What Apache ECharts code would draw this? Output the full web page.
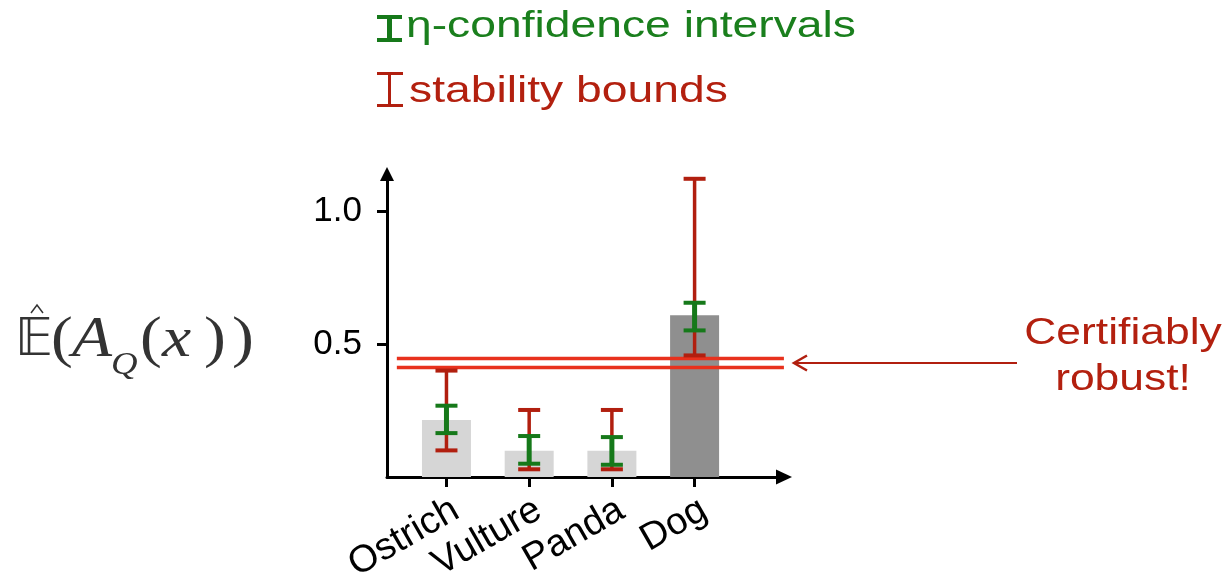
<!DOCTYPE html>
<html><head><meta charset="utf-8">
<script src="https://cdn.jsdelivr.net/npm/echarts@6/dist/echarts.min.js"></script>
<style>html,body{margin:0;padding:0;background:#fff}#c{width:1228px;height:579px}</style>
</head><body><div id="c"></div>
<script>
const categories = ['Ostrich', 'Vulture', 'Panda', 'Dog'];
const estimates = [0.214, 0.099, 0.099, 0.608];
const stabilityLow = [0.100, 0.029, 0.029, 0.457];
const stabilityHigh = [0.400, 0.252, 0.252, 1.121];
const confLow = [0.165, 0.050, 0.046, 0.551];
const confHigh = [0.268, 0.154, 0.150, 0.655];
const certifiedLevels = [0.445, 0.412];
const yTickValues = [0.5, 1.0];
const legendLabels = ['η-confidence intervals', 'stability bounds'];
const annotationLines = ['Certifiably', 'robust!'];

const GREEN = '#16791a', RED = '#b11f0f', LINE_RED = '#e8311d';
const barColors = ['#d6d6d6', '#d6d6d6', '#d6d6d6', '#8f8f8f'];

function errorRender(color, stemW, capW, capH) {
  return function (params, api) {
    const x = api.value(0), lo = api.value(1), hi = api.value(2);
    const a = api.coord([x, lo]), b = api.coord([x, hi]);
    const h = capW / 2;
    return { type: 'group', children: [
      { type: 'line', shape: { x1: a[0], y1: a[1], x2: b[0], y2: b[1] }, style: { stroke: color, lineWidth: stemW } },
      { type: 'line', shape: { x1: b[0] - h, y1: b[1], x2: b[0] + h, y2: b[1] }, style: { stroke: color, lineWidth: capH } },
      { type: 'line', shape: { x1: a[0] - h, y1: a[1], x2: a[0] + h, y2: a[1] }, style: { stroke: color, lineWidth: capH } }
    ]};
  };
}

const chart = echarts.init(document.getElementById('c'));
const axisFont = { fontFamily: 'Liberation Sans', color: '#000' };
const idx = categories.map((c, i) => i);

const option = {
  backgroundColor: '#fff',
  animation: false,
  grid: { left: 387, top: 174, right: 444, bottom: 102, containLabel: false, outerBoundsMode: 'none' },
  xAxis: {
    type: 'value', min: -0.719, max: 4.081,
    splitLine: { show: false },
    axisLine: { show: true, onZero: false, symbol: ['none', 'triangle'], symbolSize: [15, 16], lineStyle: { color: '#000', width: 3 } },
    axisTick: { show: true, customValues: idx, length: 10, lineStyle: { color: '#000', width: 3 } },
    axisLabel: Object.assign({ customValues: idx, rotate: 30, margin: 14, fontSize: 38, align: 'right', verticalAlign: 'top',
      formatter: v => categories[Math.round(v)] }, axisFont)
  },
  yAxis: {
    type: 'value', min: 0, max: 1.139,
    splitLine: { show: false },
    axisLine: { show: true, onZero: false, symbol: ['none', 'triangle'], symbolSize: [14, 14], lineStyle: { color: '#000', width: 3 } },
    axisTick: { show: true, customValues: yTickValues, length: 10, lineStyle: { color: '#000', width: 3 } },
    axisLabel: Object.assign({ customValues: yTickValues, margin: 25, fontSize: 35, formatter: v => v.toFixed(1) }, axisFont)
  },
  series: [
    {
      type: 'bar', name: 'estimate', barWidth: 49, z: 1,
      data: estimates.map((v, i) => ({ value: [i, v], itemStyle: { color: barColors[i] } }))
    },
    ...certifiedLevels.map(lv => ({
      type: 'line', name: 'certified', symbol: 'none', silent: true, clip: false, z: 2,
      lineStyle: { color: LINE_RED, width: 3.5 },
      data: [[-0.60, lv], [4.08, lv]]
    })),
    {
      type: 'custom', name: legendLabels[1], renderItem: errorRender(RED, 3.5, 22, 4), z: 3,
      encode: { x: 0, y: [1, 2] },
      data: idx.map(i => [i, stabilityLow[i], stabilityHigh[i]])
    },
    {
      type: 'custom', name: legendLabels[0], renderItem: errorRender(GREEN, 5, 22, 4), z: 4,
      encode: { x: 0, y: [1, 2] },
      data: idx.map(i => [i, confLow[i], confHigh[i]])
    }
  ]
};
chart.setOption(option);

const midLevel = (certifiedLevels[0] + certifiedLevels[1]) / 2;
const ay = chart.convertToPixel({ gridIndex: 0 }, [0, midLevel])[1];
const serif = 'Liberation Serif';
const fgray = '#333';

chart.setOption({
  graphic: [
    // legend
    { type: 'rect', shape: { x: 377, y: 15, width: 25, height: 4 }, style: { fill: GREEN } },
    { type: 'rect', shape: { x: 387, y: 15, width: 5, height: 27 }, style: { fill: GREEN } },
    { type: 'rect', shape: { x: 377, y: 38, width: 25, height: 4 }, style: { fill: GREEN } },
    { type: 'text', x: 406, y: 27, scaleX: 1.25, style: { text: legendLabels[0], fill: '#1a7f1d', fontFamily: 'Liberation Sans', fontSize: 37, align: 'left', verticalAlign: 'middle' } },
    { type: 'rect', shape: { x: 377, y: 72, width: 26, height: 3 }, style: { fill: RED } },
    { type: 'rect', shape: { x: 388, y: 72, width: 3, height: 35 }, style: { fill: RED } },
    { type: 'rect', shape: { x: 377, y: 104, width: 26, height: 3 }, style: { fill: RED } },
    { type: 'text', x: 409, y: 92, scaleX: 1.25, style: { text: legendLabels[1], fill: '#b3200f', fontFamily: 'Liberation Sans', fontSize: 37, align: 'left', verticalAlign: 'middle' } },
    // annotation arrow
    { type: 'line', shape: { x1: 794, y1: ay, x2: 1017, y2: ay }, style: { stroke: RED, lineWidth: 2 } },
    { type: 'polyline', shape: { points: [[807, ay - 7.5], [794, ay], [807, ay + 7.5]] }, style: { stroke: RED, lineWidth: 2.5, fill: 'none' } },
    { type: 'text', x: 1123, y: 357, scaleX: 1.2, style: { text: annotationLines.join('\n'), fill: '#b3200f', fontFamily: 'Liberation Sans', fontSize: 37, lineHeight: 46, align: 'center', verticalAlign: 'middle' } },
    // y axis title (formula)
    { type: 'polyline', shape: { points: [[31, 313], [37, 305], [43, 313]] }, style: { stroke: fgray, lineWidth: 1.5, fill: 'none' } },
    { type: 'text', x: 15, y: 341, style: { text: '𝔼', fill: fgray, fontFamily: 'DejaVu Sans', fontSize: 52, align: 'left', verticalAlign: 'middle' } },
    { type: 'text', x: 51, y: 340.6, scaleX: 1.15, style: { text: '(', fill: fgray, fontFamily: serif, fontSize: 57, align: 'left', verticalAlign: 'middle' } },
    { type: 'text', x: 72, y: 340.6, scaleX: 1.15, style: { text: 'A', fill: fgray, fontFamily: serif, fontStyle: 'italic', fontSize: 57, align: 'left', verticalAlign: 'middle' } },
    { type: 'text', x: 111, y: 366, scaleX: 1.15, style: { text: 'Q', fill: fgray, fontFamily: serif, fontStyle: 'italic', fontSize: 32, align: 'left', verticalAlign: 'middle' } },
    { type: 'text', x: 140, y: 340.6, scaleX: 1.15, style: { text: '(', fill: fgray, fontFamily: serif, fontSize: 57, align: 'left', verticalAlign: 'middle' } },
    { type: 'text', x: 162, y: 340.6, scaleX: 1.15, style: { text: 'x', fill: fgray, fontFamily: serif, fontStyle: 'italic', fontSize: 57, align: 'left', verticalAlign: 'middle' } },
    { type: 'text', x: 204, y: 340.6, scaleX: 1.15, style: { text: ')', fill: fgray, fontFamily: serif, fontSize: 57, align: 'left', verticalAlign: 'middle' } },
    { type: 'text', x: 232, y: 340.6, scaleX: 1.15, style: { text: ')', fill: fgray, fontFamily: serif, fontSize: 57, align: 'left', verticalAlign: 'middle' } }
  ]
});
</script></body></html>
